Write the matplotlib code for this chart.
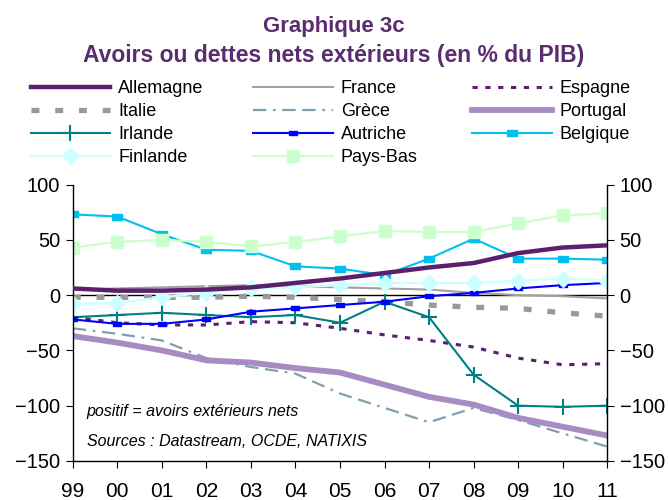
import matplotlib
matplotlib.use("Agg")
import matplotlib.pyplot as plt
import numpy as np

plt.rcParams['font.family'] = ['Liberation Sans', 'DejaVu Sans']

# annees 1999 -> 2011
years = ["99", "00", "01", "02", "03", "04", "05", "06", "07", "08", "09", "10", "11"]

allemagne = [6, 4, 4, 5, 7, 11, 15, 20, 25, 29, 38, 43, 45]
france = [5, 6, 7, 8, 9, 8, 7, 6, 5, 2, 0, -1, -3]
espagne = [-20, -25, -27, -27, -24, -25, -30, -36, -41, -47, -57, -63, -62]
italie = [-2, -2, -2, -2, -1, -2, -4, -6, -9, -11, -12, -16, -19]
grece = [-30, -35, -41, -57, -65, -71, -89, -102, -115, -102, -113, -125, -137]
portugal = [-37, -43, -50, -59, -61, -66, -70, -81, -92, -99, -111, -119, -127]
irlande = [-20, -18, -16, -18, -20, -18, -25, -6, -20, -72, -100, -101, -100]
autriche = [-22, -26, -26, -22, -15, -12, -9, -6, -1, 2, 6, 9, 11]
belgique = [73, 71, 55, 41, 40, 26, 24, 18, 33, 51, 33, 33, 32]
finlande = [-8, -7, -2, 2, 6, 7, 9, 11, 11, 11, 13, 15, 13]
pays_bas = [43, 48, 50, 48, 44, 48, 53, 58, 57, 57, 65, 72, 74]

violet = "#5B1F6E"
# petit rectangle plat pour Autriche / Belgique
rect = [(-1, -0.5), (1, -0.5), (1, 0.5), (-1, 0.5), (-1, -0.5)]

fig = plt.figure(figsize=(6.68, 5.0), dpi=100)
ax = fig.add_axes([0.109, 0.078, 0.8, 0.553])
x = np.arange(len(years))

l_all, = ax.plot(x, allemagne, color=violet, lw=3.2, label="Allemagne", zorder=5)
l_fra, = ax.plot(x, france, color="#A0A0A0", lw=1.5, label="France")
l_esp, = ax.plot(x, espagne, color=violet, lw=2.2, ls=(0, (1.7, 2.5)), label="Espagne")
l_ita, = ax.plot(x, italie, color="#999999", lw=3.8, ls=(0, (1.5, 3.0)), label="Italie")
l_gre, = ax.plot(x, grece, color="#7F9FAF", lw=1.6, ls=(0, (6, 3, 1.2, 3, 6, 3)), label="Grèce")
l_por, = ax.plot(x, portugal, color="#A98BC4", lw=4.2, label="Portugal")
l_irl, = ax.plot(x, irlande, color="#008080", lw=1.5, marker="+", ms=11, mew=1.5, label="Irlande")
l_aut, = ax.plot(x, autriche, color="#0000FF", lw=1.5, marker=rect, ms=6, label="Autriche")
l_bel, = ax.plot(x, belgique, color="#00C0F0", lw=1.5, marker=rect, ms=7.5, label="Belgique")
l_fin, = ax.plot(x, finlande, color="#CCFFFF", lw=1.6, marker="D", ms=8, label="Finlande")
l_pb, = ax.plot(x, pays_bas, color="#CCFFCC", lw=1.6, marker="s", ms=9, label="Pays-Bas")

ax.axhline(0, color="black", lw=1.0, zorder=1)

ax.set_xlim(0, len(years) - 1)
ax.set_ylim(-150, 100)
ax.set_xticks(x)
ax.set_xticklabels(years)
ax.set_yticks([-150, -100, -50, 0, 50, 100])
ax.tick_params(axis="x", length=5, pad=10, labelsize=15)
ax.tick_params(axis="y", length=5, pad=4, labelsize=14.5, left=True, right=True,
               labelleft=True, labelright=True)
ax.spines["top"].set_visible(False)
for s in ["left", "right", "bottom"]:
    ax.spines[s].set_linewidth(1.0)

ax.text(0.026, 0.178, "positif = avoirs extérieurs nets", transform=ax.transAxes,
        fontsize=11.5, style="italic", va="center")
ax.text(0.026, 0.07, "Sources : Datastream, OCDE, NATIXIS", transform=ax.transAxes,
        fontsize=11.5, style="italic", va="center")

fig.text(0.5, 0.936, "Graphique 3c", ha="center", va="baseline", fontsize=16,
         fontweight="bold", color="#5B2C6F")
fig.text(0.5, 0.876, "Avoirs ou dettes nets extérieurs (en % du PIB)", ha="center",
         va="baseline", fontsize=16.5, fontweight="bold", color="#5B2C6F")

cols = [([l_all, l_ita, l_irl, l_fin], 0.046),
        ([l_fra, l_gre, l_aut, l_pb], 0.379),
        ([l_esp, l_por, l_bel], 0.707)]
for handles, xpos in cols:
    fig.legend(handles=handles, loc="upper left", bbox_to_anchor=(xpos, 0.84),
               frameon=False, fontsize=13, handlelength=4.4, handletextpad=0.45,
               labelspacing=0.33, borderpad=0, borderaxespad=0)

fig.savefig("out.png", dpi=100)
